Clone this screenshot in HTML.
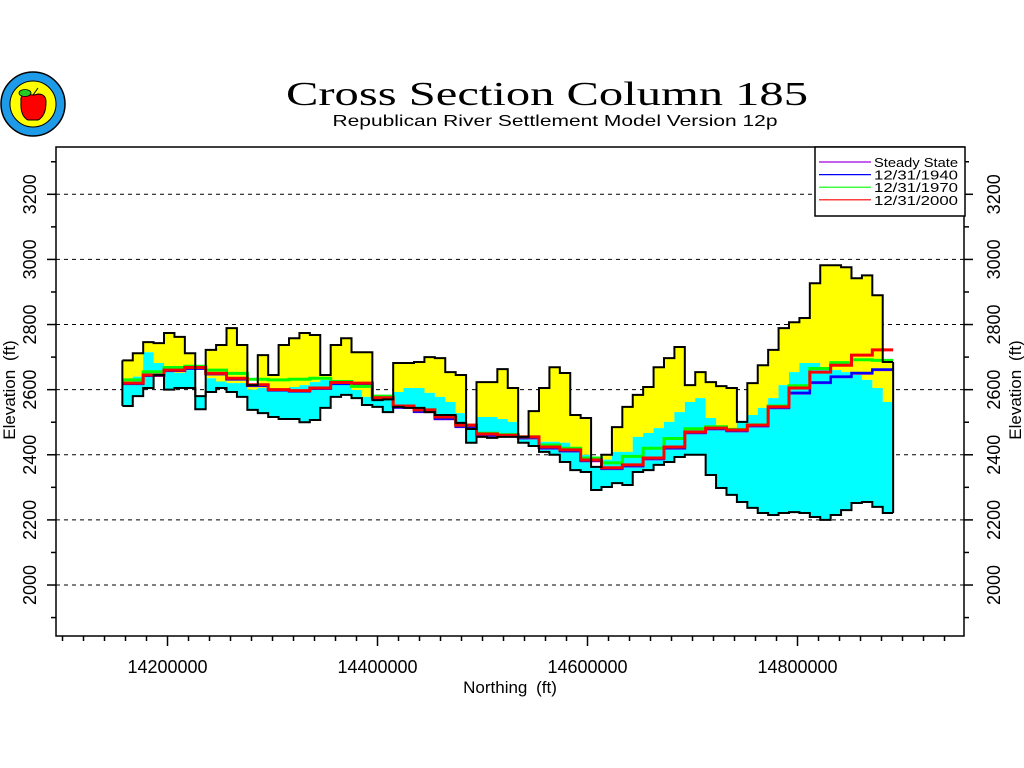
<!DOCTYPE html>
<html><head><meta charset="utf-8"><style>
html,body{margin:0;padding:0;background:#fff;}
svg{display:block;font-family:"Liberation Sans",sans-serif;}
</style></head><body>
<svg id="chart" width="1024" height="768" viewBox="0 0 1024 768" xmlns="http://www.w3.org/2000/svg">
<g>
<circle cx="33" cy="104" r="32" fill="#1e9be8" stroke="#000" stroke-width="1.5"/>
<circle cx="33" cy="104" r="23" fill="#ffff00" stroke="#000" stroke-width="1"/>
<path d="M21 101 Q20 94 28 94 Q33 96 38 94 Q46 94 46 102 Q46 116 38 120 L28 120 Q20 116 21 101 Z" fill="#ff0000" stroke="#000" stroke-width="1"/>
<ellipse cx="25" cy="93" rx="6" ry="3.5" fill="#22cc22" stroke="#000" stroke-width="0.8"/>
<line x1="33" y1="95" x2="38" y2="88" stroke="#000" stroke-width="1"/>
</g>
<text x="547" y="105" text-anchor="middle" font-family="'Liberation Serif',serif" font-size="34" textLength="522" lengthAdjust="spacingAndGlyphs">Cross Section Column 185</text>
<text x="555" y="126" text-anchor="middle" font-size="16" textLength="445" lengthAdjust="spacingAndGlyphs">Republican River Settlement Model Version 12p</text>
<g id="plot"></g>
</svg>
<script>
const NS="http://www.w3.org/2000/svg";
// Data: cell-wise elevations (ft)
const cellStart=14157000, cellWidth=9920;
const landSurface=[2690,2712,2746,2743,2774,2762,2712,2580,2722,2737,2789,2737,2614,2706,2645,2737,2758,2774,2768,2645,2737,2758,2715,2715,2568,2570,2682,2682,2685,2700,2697,2654,2645,2479,2623,2623,2663,2605,2455,2534,2605,2669,2651,2522,2513,2363,2400,2485,2547,2584,2608,2669,2697,2731,2614,2654,2623,2611,2605,2501,2620,2675,2722,2789,2807,2820,2927,2982,2982,2976,2942,2951,2890,2685];
const layerBoundary=[2620,2640,2715,2682,2660,2651,2660,2580,2635,2625,2620,2620,2600,2605,2605,2599,2608,2614,2623,2630,2630,2620,2599,2578,2568,2570,2593,2605,2605,2590,2578,2562,2528,2479,2516,2516,2510,2501,2455,2446,2440,2440,2437,2409,2400,2363,2385,2409,2409,2455,2467,2482,2501,2531,2562,2574,2513,2482,2482,2501,2522,2544,2574,2614,2654,2682,2682,2669,2660,2654,2645,2630,2605,2562];
const bedrock=[2550,2580,2605,2645,2600,2605,2605,2540,2593,2605,2593,2578,2538,2528,2516,2510,2510,2500,2507,2544,2578,2584,2574,2553,2547,2531,2547,2544,2544,2531,2522,2522,2498,2437,2455,2452,2455,2455,2437,2427,2409,2400,2378,2353,2347,2292,2301,2313,2307,2347,2353,2369,2378,2393,2400,2400,2338,2298,2277,2255,2237,2221,2215,2221,2224,2221,2209,2200,2215,2230,2252,2255,2240,2221];
// Water levels, steps of two cells
const wlStep=19840;
const head2000=[2620,2645,2660,2668,2650,2635,2615,2600,2597,2605,2622,2620,2575,2550,2538,2516,2491,2464,2460,2455,2424,2415,2384,2360,2369,2390,2424,2470,2482,2476,2491,2547,2605,2654,2675,2706,2722];
const head1970=[2630,2655,2668,2672,2660,2650,2632,2630,2632,2635,2625,2610,2580,2550,2538,2516,2491,2466,2462,2455,2430,2420,2390,2375,2395,2420,2450,2480,2486,2478,2492,2550,2612,2665,2683,2692,2690];
const head1940=[2618,2643,2658,2665,2648,2632,2612,2598,2595,2603,2618,2616,2572,2546,2533,2511,2487,2460,2458,2452,2421,2412,2382,2358,2366,2388,2421,2468,2480,2474,2489,2545,2590,2622,2640,2651,2662];
const headSteady=[2617,2642,2657,2664,2647,2631,2611,2597,2594,2602,2617,2615,2571,2544,2531,2509,2485,2458,2456,2450,2419,2410,2380,2356,2364,2386,2419,2466,2478,2472,2487,2543,2588,2620,2638,2649,2660];
const yTicks=[2000,2200,2400,2600,2800,3000,3200];
const xTicks=[14200000,14400000,14600000,14800000];
const legendLabels=["Steady State","12/31/1940","12/31/1970","12/31/2000"];
const legendColors=["#a000e0","#0000ff","#00ff00","#ff0000"];

const L=56,R=964,T=147,B=636;
function px(n){return L+(n-14093800)*210/200000;}
function py(e){return 194.3+(3200-e)*0.3256;}
const g=document.getElementById('plot');
function el(tag,attrs,parent){const e=document.createElementNS(NS,tag);for(const k in attrs)e.setAttribute(k,attrs[k]);(parent||g).appendChild(e);return e;}

yTicks.forEach(v=>{
  const ln=el('line',{x1:L,x2:R,y1:py(v),y2:py(v),stroke:'#000','stroke-width':1,'stroke-dasharray':'4,4'});
  
  
});
function stepPath(arr,start,w){let d='';arr.forEach((v,i)=>{const x0=px(start+i*w),x1=px(start+(i+1)*w);d+=(i?'L':'M')+x0+','+py(v)+'L'+x1+','+py(v);});return d;}
function bandPath(topA,botA){let d='';const n=topA.length;
  for(let i=0;i<n;i++){const x0=px(cellStart+i*cellWidth),x1=px(cellStart+(i+1)*cellWidth);d+=(i?'L':'M')+x0+','+py(topA[i])+'L'+x1+','+py(topA[i]);}
  for(let i=n-1;i>=0;i--){const x0=px(cellStart+i*cellWidth),x1=px(cellStart+(i+1)*cellWidth);d+='L'+x1+','+py(botA[i])+'L'+x0+','+py(botA[i]);}
  return d+'Z';}
const y1=el('path',{d:bandPath(landSurface,layerBoundary),fill:'#ffff00',stroke:'none'});


const c1=el('path',{d:bandPath(layerBoundary,bedrock),fill:'#00ffff',stroke:'none'});


[[headSteady,legendColors[0],2,'steady-state-line'],[head1940,legendColors[1],2.5,'head-1940-line'],[head1970,legendColors[2],3,'head-1970-line'],[head2000,legendColors[3],3,'head-2000-line']].forEach(s=>{
  const p=el('path',{d:stepPath(s[0],cellStart,wlStep),fill:'none',stroke:s[1],'stroke-width':s[2]});
  
  
});
const o1=el('path',{d:stepPath(landSurface,cellStart,cellWidth),fill:'none',stroke:'#000','stroke-width':2});


const o2=el('path',{d:stepPath(bedrock,cellStart,cellWidth),fill:'none',stroke:'#000','stroke-width':2});


const n=landSurface.length;
el('line',{x1:px(cellStart),x2:px(cellStart),y1:py(landSurface[0]),y2:py(bedrock[0]),stroke:'#000','stroke-width':2});
el('line',{x1:px(cellStart+n*cellWidth),x2:px(cellStart+n*cellWidth),y1:py(landSurface[n-1]),y2:py(bedrock[n-1]),stroke:'#000','stroke-width':2});
const fr=el('rect',{x:L,y:T,width:R-L,height:B-T,fill:'none',stroke:'#000','stroke-width':1.5});


for(let v=1900;v<=3300;v+=100){const maj=v%200===0;const y=py(v);
  el('line',{x1:L-(maj?9:5),x2:L,y1:y,y2:y,stroke:'#000','stroke-width':1.5});
  el('line',{x1:R,x2:R+(maj?9:5),y1:y,y2:y,stroke:'#000','stroke-width':1.5});}
yTicks.forEach(v=>{const y=py(v);
  const t=el('text',{x:0,y:0,transform:`translate(36,${y}) rotate(-90)`,'text-anchor':'middle','font-size':18});t.textContent=v;
  
  
  const t2=el('text',{x:0,y:0,transform:`translate(1000,${y}) rotate(-90)`,'text-anchor':'middle','font-size':18});t2.textContent=v;
  
  
});
for(let v=14100000;v<=14950000;v+=20000){const maj=v%200000===0;const x=px(v);
  el('line',{x1:x,x2:x,y1:B,y2:B+(maj?10:5),stroke:'#000','stroke-width':1.5});}
xTicks.forEach(v=>{const t=el('text',{x:px(v),y:673,'text-anchor':'middle','font-size':18});t.textContent=v;
  
  });
const xt=el('text',{x:510,y:693,'text-anchor':'middle','font-size':17,'word-spacing':4});xt.textContent='Northing (ft)';


const yl=el('text',{x:0,y:0,transform:'translate(15,390) rotate(-90)','text-anchor':'middle','font-size':17,'word-spacing':4});yl.textContent='Elevation (ft)';


const yr=el('text',{x:0,y:0,transform:'translate(1021,390) rotate(-90)','text-anchor':'middle','font-size':17,'word-spacing':4});yr.textContent='Elevation (ft)';


const lg=el('rect',{x:815,y:147,width:150,height:69,fill:'#fff',stroke:'#000','stroke-width':1.5});


legendLabels.forEach((lab,i)=>{const y=162+i*12.6;
  el('line',{x1:819,x2:871,y1:y,y2:y,stroke:legendColors[i],'stroke-width':1.2});
  const t=el('text',{x:874,y:y+5,'font-size':13,textLength:84,lengthAdjust:'spacingAndGlyphs'});t.textContent=lab;
  
  });
</script>
</body></html>
